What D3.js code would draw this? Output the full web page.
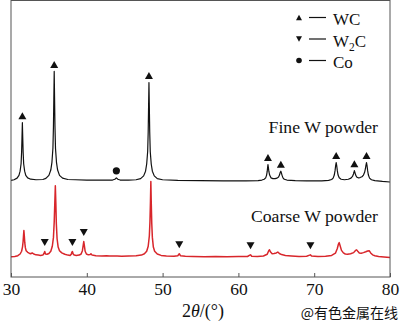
<!DOCTYPE html>
<html>
<head>
<meta charset="utf-8">
<script src="https://cdn.jsdelivr.net/npm/d3@7"></script>
<style>
  html, body { margin: 0; padding: 0; background: #fff; }
  svg { display: block; }
  text { font-family: "Times New Roman", Times, serif; fill: #111; }
</style>
</head>
<body>
<svg id="chart" width="400" height="322"></svg>
<script>
// XRD patterns of WC-Co made from fine and coarse W powder (2θ in degrees, intensity in a.u.)
const xTicks = [30, 40, 50, 60, 70, 80];

const fineData = [
  [30.0,0.1],[30.4,0.3],[30.8,0.9],[31.05,1.9],[31.2,3.4],[31.33,6.1],[31.4,10.3],[31.45,15.5],[31.5,20.9],
  [31.55,15.5],[31.6,10.3],[31.67,6.1],[31.8,3.4],[31.95,1.9],[32.2,1.0],[32.6,0.5],[33.3,0.3],[34.2,0.4],
  [34.6,0.8],[35.0,1.9],[35.25,3.8],[35.4,6.6],[35.53,11.7],[35.6,19.6],[35.65,29.5],[35.7,39.4],
  [35.75,29.5],[35.8,19.6],[35.87,11.7],[36.0,6.6],[36.15,3.8],[36.4,1.9],[36.8,0.9],[37.5,0.4],[38.5,0.3],
  [40.0,0.2],[42.0,0.2],[43.4,0.2],[43.7,0.5],[43.9,1.0],[44.1,0.5],[44.4,0.2],[45.5,0.2],[46.5,0.3],
  [47.1,0.7],[47.5,1.7],[47.75,3.4],[47.9,6.0],[48.03,10.5],[48.1,17.6],[48.15,26.5],[48.2,35.4],
  [48.25,26.5],[48.3,17.6],[48.37,10.5],[48.5,6.0],[48.65,3.4],[48.9,1.7],[49.3,0.7],[50.0,0.3],
  [52.0,0.1],[55.0,0.0],[58.0,-0.1],[61.0,-0.1],[62.6,0.0],[63.1,0.2],[63.4,0.5],[63.6,1.0],[63.72,2.0],
  [63.8,3.3],[63.85,4.6],[63.9,5.8],[63.96,4.6],[64.02,3.3],[64.12,2.0],[64.3,1.0],[64.55,0.7],[64.85,0.7],
  [65.1,0.9],[65.3,1.3],[65.42,2.0],[65.5,2.8],[65.6,3.4],[65.68,2.7],[65.76,1.9],[65.88,1.0],[66.05,0.5],
  [66.4,0.2],[67.5,0.0],[69.0,-0.1],[71.0,-0.1],[71.9,0.1],[72.3,0.4],[72.5,0.9],[72.65,2.0],[72.75,3.6],
  [72.82,5.2],[72.9,6.5],[72.98,5.2],[73.05,3.6],[73.15,2.0],[73.3,1.0],[73.55,0.5],[74.0,0.3],[74.5,0.5],
  [74.85,0.9],[75.05,1.5],[75.18,2.4],[75.25,3.0],[75.3,3.6],[75.38,2.9],[75.47,2.0],[75.6,1.3],[75.8,1.0],
  [76.05,1.1],[76.3,1.4],[76.5,2.0],[76.65,3.0],[76.75,4.2],[76.82,5.4],[76.9,6.5],[76.98,5.2],[77.05,3.6],
  [77.15,2.0],[77.3,0.9],[77.55,0.3],[78.0,0.0],[79.0,-0.3],[80.0,-0.5]
];

const coarseData = [
  [30.0,0.0],[30.5,0.1],[30.9,0.4],[31.2,1.0],[31.4,2.0],[31.52,3.6],[31.6,5.6],[31.65,7.6],[31.7,9.5],
  [31.76,7.4],[31.82,5.0],[31.9,3.2],[32.0,2.2],[32.2,1.6],[32.4,1.3],[32.6,1.1],[32.8,1.4],[33.0,1.0],
  [33.3,0.7],[33.6,0.6],[33.9,0.5],[34.2,0.6],[34.35,1.2],[34.45,1.9],[34.55,1.0],[34.75,0.9],[35.0,1.2],
  [35.25,2.0],[35.45,3.8],[35.6,7.0],[35.7,12.5],[35.78,19.5],[35.85,25.6],[35.92,19.0],[35.98,12.0],
  [36.08,6.5],[36.22,3.5],[36.4,2.2],[36.7,1.4],[37.1,0.9],[37.5,0.6],[37.8,0.5],[37.95,0.9],[38.02,1.6],
  [38.1,1.9],[38.2,1.0],[38.35,0.6],[38.6,0.5],[39.0,0.6],[39.25,1.0],[39.42,2.2],[39.52,4.0],[39.6,5.5],
  [39.68,4.0],[39.78,2.0],[39.95,1.0],[40.2,0.7],[40.45,0.8],[40.55,1.1],[40.7,0.6],[41.2,0.4],[42.0,0.3],
  [42.6,0.4],[43.0,0.3],[44.0,0.3],[44.6,0.2],[45.5,0.3],[46.5,0.4],[47.2,0.6],[47.6,1.1],[47.9,2.0],
  [48.1,3.8],[48.25,7.5],[48.33,12.5],[48.4,20.0],[48.45,27.2],[48.5,20.0],[48.57,12.0],[48.65,7.0],
  [48.78,3.5],[48.95,2.0],[49.3,1.0],[49.8,0.5],[50.5,0.3],[51.5,0.2],[52.0,0.4],[52.2,1.1],[52.35,0.4],
  [53.0,0.2],[54.0,0.1],[55.5,0.0],[57.0,0.1],[58.5,0.0],[60.0,0.1],[61.2,0.1],[61.5,0.6],[61.6,0.7],
  [61.75,0.2],[62.5,0.1],[63.3,0.3],[63.8,0.9],[64.0,2.2],[64.1,2.5],[64.22,1.8],[64.45,1.1],[64.7,1.2],
  [65.0,1.4],[65.2,1.7],[65.4,1.2],[65.7,0.8],[66.2,0.5],[67.0,0.3],[68.0,0.1],[69.0,0.2],[69.4,0.6],
  [69.5,0.7],[69.65,0.3],[70.5,0.1],[71.5,0.2],[72.3,0.5],[72.8,1.3],[73.05,3.0],[73.2,4.6],[73.3,5.1],
  [73.42,4.0],[73.6,2.3],[73.85,1.4],[74.1,1.0],[74.4,0.9],[74.8,1.1],[75.2,1.5],[75.45,2.3],[75.6,2.5],
  [75.75,2.0],[75.95,1.4],[76.2,1.3],[76.5,1.5],[76.8,1.8],[77.05,2.1],[77.25,2.2],[77.45,1.4],[77.7,0.7],
  [78.0,0.4],[78.5,0.1],[79.2,-0.1],[80.0,-0.3]
];

// vertical stacking offsets of the two patterns (a.u.)
const fineOffset = 34.8;
const coarseOffset = 7.3;

// phase reflections
const wcPeaks = [31.5, 35.7, 48.2, 63.9, 65.6, 72.9, 75.3, 76.9];
const coPeaks = [43.9];
const w2cPeaks = [34.45, 38.1, 39.6, 52.2, 61.6, 69.5];

const legendItems = [
  { symbol: "up", label: "WC" },
  { symbol: "down", label: "W2C" },
  { symbol: "dot", label: "Co" }
];
const curveLabels = ["Fine W powder", "Coarse W powder"];

const serif = "'Times New Roman', Times, serif";
const svg = d3.select("#chart");
const plotLeft = 11, plotRight = 390, plotTop = 0.5, plotBottom = 277;

const x = d3.scaleLinear().domain([30, 80]).range([plotLeft, plotRight]);
const y = d3.scaleLinear().domain([0, 100]).range([plotBottom, 0]);

const plot = svg.append("g");
plot.append("defs").append("clipPath").attr("id", "clip")
  .append("rect").attr("x", plotLeft).attr("y", plotTop)
  .attr("width", plotRight - plotLeft).attr("height", plotBottom - plotTop);

const line = offset => d3.line()
  .x(d => x(d[0]))
  .y(d => y(d[1] + offset));

plot.append("path").datum(coarseData)
  .attr("clip-path", "url(#clip)")
  .attr("d", line(coarseOffset))
  .attr("fill", "none").attr("stroke", "#d8262b").attr("stroke-width", 1.5)
  .attr("stroke-linejoin", "round");

plot.append("path").datum(fineData)
  .attr("clip-path", "url(#clip)")
  .attr("d", line(fineOffset))
  .attr("fill", "none").attr("stroke", "#111").attr("stroke-width", 1.2)
  .attr("stroke-linejoin", "round");

// highest point of a pattern near a given angle
function peakTop(data, angle) {
  const near = data.filter(d => Math.abs(d[0] - angle) <= 0.3);
  return d3.max(near, d => d[1]);
}

const triUp = (w, h) => `M0,${-h / 2}L${w / 2},${h / 2}L${-w / 2},${h / 2}Z`;
const triDown = (w, h) => `M0,${h / 2}L${w / 2},${-h / 2}L${-w / 2},${-h / 2}Z`;

plot.selectAll(".wc").data(wcPeaks).join("path")
  .attr("d", triUp(8, 7))
  .attr("transform", a => `translate(${x(a)},${y(peakTop(fineData, a) + fineOffset) - 7})`)
  .attr("fill", "#111");

plot.selectAll(".co").data(coPeaks).join("circle")
  .attr("cx", a => x(a))
  .attr("cy", a => y(peakTop(fineData, a) + fineOffset) - 7)
  .attr("r", 3.6).attr("fill", "#111");

plot.selectAll(".w2c").data(w2cPeaks).join("path")
  .attr("d", triDown(8, 7))
  .attr("transform", a => `translate(${x(a)},${y(peakTop(coarseData, a) + coarseOffset) - 9})`)
  .attr("fill", "#111");

// frame
svg.append("rect").attr("x", plotLeft).attr("y", plotTop)
  .attr("width", plotRight - plotLeft).attr("height", plotBottom - plotTop)
  .attr("fill", "none").attr("stroke", "#555").attr("stroke-width", 1);

// bottom axis with inward ticks
const axis = svg.append("g").attr("transform", `translate(0,${plotBottom})`)
  .call(d3.axisBottom(x).tickValues(xTicks).tickSize(-4).tickPadding(6).tickFormat(d3.format("d")));
axis.select(".domain").remove();
axis.attr("font-family", serif);
axis.selectAll(".tick line").attr("stroke", "#555");
axis.selectAll(".tick text").attr("font-size", 17.5)
  .style("font-family", serif).attr("fill", "#111");

// axis title 2θ/(°)
const title = svg.append("text").attr("x", 203).attr("y", 316.5)
  .attr("text-anchor", "middle").attr("font-size", 18);
title.append("tspan").text("2");
title.append("tspan").attr("font-style", "italic").text("θ");
title.append("tspan").text("/(°)");

// curve labels
svg.append("text").attr("x", 378).attr("y", 133).attr("text-anchor", "end")
  .attr("font-size", 17.7).text(curveLabels[0]);
svg.append("text").attr("x", 378).attr("y", 222).attr("text-anchor", "end")
  .attr("font-size", 17.7).text(curveLabels[1]);

// legend
const lg = svg.append("g");
legendItems.forEach((item, i) => {
  const cy = 17.5 + i * 21.5;
  const g = lg.append("g").attr("transform", `translate(299,${cy})`);
  if (item.symbol === "up") g.append("path").attr("d", triUp(6, 5.5)).attr("fill", "#111");
  else if (item.symbol === "down") g.append("path").attr("d", triDown(6, 5.5)).attr("fill", "#111");
  else g.append("circle").attr("r", 2.8).attr("fill", "#111");
  g.append("line").attr("x1", 10).attr("x2", 27).attr("y1", 0).attr("y2", 0)
    .attr("stroke", "#111").attr("stroke-width", 1.2);
  const t = g.append("text").attr("x", 34).attr("y", 7.5).attr("font-size", 17);
  if (item.label === "W2C") {
    t.append("tspan").text("W");
    t.append("tspan").attr("font-size", 11.5).attr("dy", 4).text("2");
    t.append("tspan").attr("dy", -4).text("C");
  } else {
    t.text(item.label);
  }
});

// source mark
svg.append("text").attr("x", 398).attr("y", 318).attr("text-anchor", "end")
  .attr("font-size", 14).style("font-family", "'Noto Sans CJK SC', sans-serif")
  .attr("fill", "#f0b4b4").text("@有色金属在线");
</script>
</body>
</html>
